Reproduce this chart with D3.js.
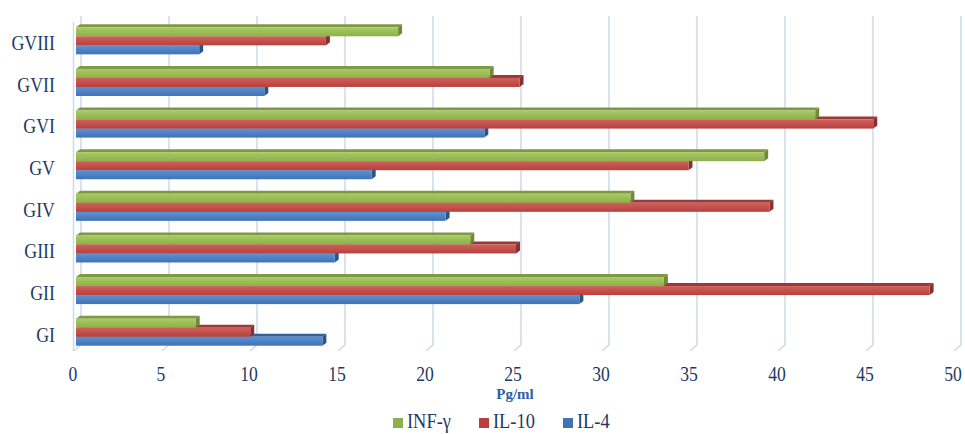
<!DOCTYPE html>
<html>
<head>
<meta charset="utf-8">
<script src="https://cdn.jsdelivr.net/npm/d3@7"></script>
<style>
  body { margin: 0; background: #fff; }
  text { font-family: "Liberation Serif", "DejaVu Serif", serif; }
</style>
</head>
<body>
<script>
var w = 965;
var h = 434;

// data
var categories = ["GVIII", "GVII", "GVI", "GV", "GIV", "GIII", "GII", "GI"];
var infg = [18.3, 23.5, 42.0, 39.1, 31.5, 22.4, 33.4, 6.8];
var il10 = [14.2, 25.2, 45.3, 34.8, 39.4, 25.0, 48.5, 9.9];
var il4 = [7.0, 10.7, 23.2, 16.8, 21.0, 14.7, 28.6, 14.0];
var seriesNames = ["INF-γ", "IL-10", "IL-4"];
var xTicks = [0, 5, 10, 15, 20, 25, 30, 35, 40, 45, 50];

var series = [
  { name: "INF-γ", values: infg, top: "#a9cb63", bot: "#8eaf4a", side: "#6e8a36", roof: "#7d9a43" },
  { name: "IL-10", values: il10, top: "#d0605c", bot: "#b8403d", side: "#8a2f2d", roof: "#9a3a37" },
  { name: "IL-4", values: il4, top: "#5c92d4", bot: "#3f72b6", side: "#2d5488", roof: "#35609a" }
];

var dx = 4, dy = -3; // depth of the 3d bars

var xScale = d3.scaleLinear()
    .domain([0, 50])
    .range([76, 956]);

var yScale = d3.scaleBand()
    .domain(categories)
    .range([20, 353])
    .paddingInner(0.35)
    .paddingOuter(0.175);

var inner = d3.scaleBand()
    .domain(seriesNames)
    .range([0, yScale.bandwidth()]);

var svg = d3.select("body")
    .append("svg")
    .attr("width", w)
    .attr("height", h);

var defs = svg.append("defs");
series.forEach(function(s, i) {
  var g = defs.append("linearGradient")
      .attr("id", "grad" + i)
      .attr("x1", 0).attr("y1", 0).attr("x2", 0).attr("y2", 1);
  g.append("stop").attr("offset", "0%").attr("stop-color", s.top);
  g.append("stop").attr("offset", "100%").attr("stop-color", s.bot);
});

// back wall gridlines with slanted floor part
var grid = svg.append("g");
grid.selectAll("path")
    .data(xTicks)
    .enter()
    .append("path")
    .attr("d", function(d) {
      var x = xScale(d) + 5;
      return "M" + x + ",16 L" + x + ",345 L" + (x - 7) + ",351";
    })
    .attr("fill", "none")
    .attr("stroke", "#cfdcee")
    .attr("stroke-width", 1.6);

// left wall edge
svg.append("line")
    .attr("x1", 73.5).attr("x2", 73.5)
    .attr("y1", 22).attr("y2", 351)
    .attr("stroke", "#cfdcee")
    .attr("stroke-width", 1.6);

// bars: blue first, green last so the upper bar covers the lower bar's roof
var barsG = svg.append("g");
categories.forEach(function(c, ci) {
  for (var si = series.length - 1; si >= 0; si--) {
    var s = series[si];
    var v = s.values[ci];
    var x0 = xScale(0);
    var x1 = xScale(v);
    var y0 = yScale(c) + inner(s.name);
    var bh = inner.bandwidth();

    // roof
    barsG.append("path")
        .attr("d", "M" + x0 + "," + y0 + " L" + (x0 + dx) + "," + (y0 + dy) +
          " L" + (x1 + dx) + "," + (y0 + dy) + " L" + x1 + "," + y0 + "Z")
        .attr("fill", s.roof);
    // end cap
    barsG.append("path")
        .attr("d", "M" + x1 + "," + y0 + " L" + (x1 + dx) + "," + (y0 + dy) +
          " L" + (x1 + dx) + "," + (y0 + bh + dy) + " L" + x1 + "," + (y0 + bh) + "Z")
        .attr("fill", s.side);
    // front face
    barsG.append("rect")
        .attr("x", x0)
        .attr("y", y0)
        .attr("width", x1 - x0)
        .attr("height", bh)
        .attr("fill", "url(#grad" + si + ")");
  }
});

// category labels (narrowed a bit, like the condensed original face)
svg.append("g")
    .selectAll("text")
    .data(categories)
    .enter()
    .append("text")
    .attr("transform", function(d) {
      return "translate(55," + (yScale(d) + yScale.bandwidth() / 2 + 2) + ") scale(0.85,1)";
    })
    .attr("dy", "0.35em")
    .attr("text-anchor", "end")
    .attr("font-size", 21)
    .attr("fill", "#1f3a63")
    .text(function(d) { return d; });

// value tick labels
svg.append("g")
    .selectAll("text")
    .data(xTicks)
    .enter()
    .append("text")
    .attr("transform", function(d) {
      return "translate(" + (xScale(d) - 3) + ",381) scale(0.88,1)";
    })
    .attr("text-anchor", "middle")
    .attr("font-size", 20)
    .attr("fill", "#1f3a63")
    .text(function(d) { return d; });

svg.append("text")
    .attr("x", 515)
    .attr("y", 399)
    .attr("text-anchor", "middle")
    .attr("font-size", 15)
    .attr("font-weight", "bold")
    .attr("fill", "#2f5ea6")
    .text("Pg/ml");

// legend
var legendX = [393, 479, 563];
var legend = svg.append("g")
    .selectAll("g")
    .data(series)
    .enter()
    .append("g")
    .attr("transform", function(d, i) { return "translate(" + legendX[i] + ",418)"; });

legend.append("rect")
    .attr("width", 10)
    .attr("height", 10)
    .attr("fill", function(d) { return d.bot; });

legend.append("text")
    .attr("transform", "translate(14,10) scale(0.92,1)")
    .attr("font-size", 20)
    .attr("fill", "#1f3a63")
    .text(function(d) { return d.name; });
</script>
</body>
</html>
